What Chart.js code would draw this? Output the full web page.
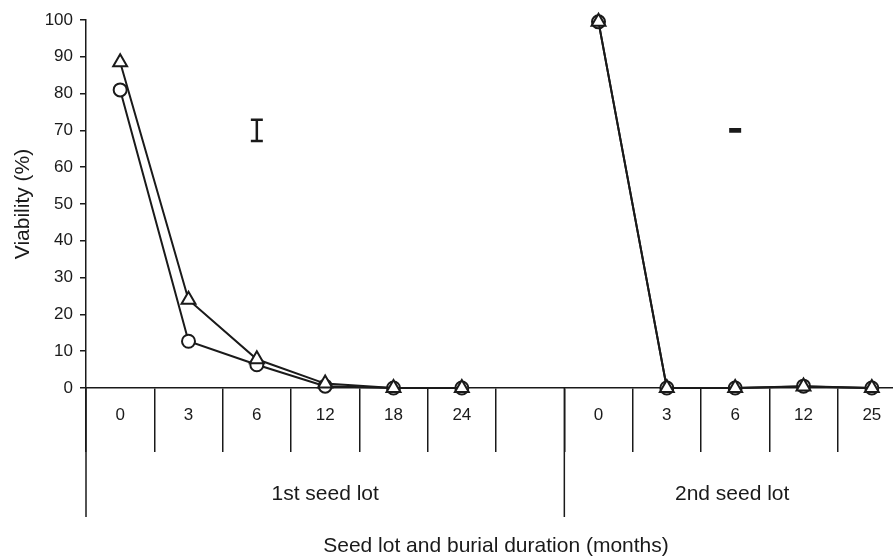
<!DOCTYPE html>
<html>
<head>
<meta charset="utf-8">
<script src="https://cdn.jsdelivr.net/npm/chart.js@4/dist/chart.umd.min.js"></script>
<style>
  html, body { margin: 0; padding: 0; overflow: hidden; background: #fff; width: 893px; height: 558px; }
  canvas { display: block; }
</style>
</head>
<body>
<canvas id="c" width="916" height="558"></canvas>
<script>
// ---- data ----
const categories = ['0', '3', '6', '12', '18', '24', '', '0', '3', '6', '12', '25'];
const triangleSeries = [88.5, 24.0, 7.8, 1.2, 0, 0, null, 99.5, 0, 0, 0.4, 0];
const circleSeries   = [81.0, 12.7, 6.3, 0.5, 0, 0, null, 99.5, 0, 0, 0.5, 0];
const groupNames = ['1st seed lot', '2nd seed lot'];
const groupStart = [0, 7];   // first category index of each group
const groupEnd   = [7, 12];  // one past the last category index
const lsdIndex  = [2, 9];    // category index where the LSD bar sits
const lsdCenter = [70, 70];
const lsdHalf   = [2.9, 0.3];
const yTitle = 'Viability (%)';
const xTitle = 'Seed lot and burial duration (months)';

const INK = '#1a1a1a';
const FONT = '"Liberation Sans", Arial, Helvetica, sans-serif';
Chart.defaults.font.family = FONT;
Chart.defaults.color = INK;

const furniture = {
  id: 'furniture',
  afterDraw(chart) {
    const { ctx, scales: { x, y } } = chart;
    const band = x.getPixelForValue(1) - x.getPixelForValue(0);
    const axisY = y.getPixelForValue(0);
    ctx.save();
    ctx.strokeStyle = INK;
    ctx.lineWidth = 1.5;
    // long group dividers
    groupStart.forEach(s => {
      const ex = x.getPixelForValue(s) - band / 2;
      ctx.beginPath();
      ctx.moveTo(ex, axisY);
      ctx.lineTo(ex, axisY + 129);
      ctx.stroke();
    });
    // group labels
    ctx.fillStyle = INK;
    ctx.font = '21px ' + FONT;
    ctx.textAlign = 'center';
    ctx.textBaseline = 'middle';
    groupNames.forEach((n, i) => {
      const l = x.getPixelForValue(groupStart[i]) - band / 2;
      const r = x.getPixelForValue(groupEnd[i]) - band / 2;
      ctx.fillText(n, (l + r) / 2 - (i === 1 ? 3 : 0), axisY + 106);
    });
    // LSD bars
    ctx.lineWidth = 2.5;
    lsdIndex.forEach((ix, i) => {
      const px = x.getPixelForValue(ix);
      const t = y.getPixelForValue(lsdCenter[i] + lsdHalf[i]);
      const b = y.getPixelForValue(lsdCenter[i] - lsdHalf[i]);
      ctx.beginPath();
      ctx.moveTo(px, t); ctx.lineTo(px, b);
      ctx.moveTo(px - 6, t); ctx.lineTo(px + 6, t);
      ctx.moveTo(px - 6, b); ctx.lineTo(px + 6, b);
      ctx.stroke();
    });
    ctx.restore();
  }
};

new Chart(document.getElementById('c'), {
  type: 'line',
  data: {
    labels: categories,
    datasets: [
      {
        label: 'Triangle series',
        data: triangleSeries,
        borderColor: INK,
        borderWidth: 2,
        pointStyle: 'triangle',
        pointRadius: 8,
        pointBorderWidth: 2,
        pointBackgroundColor: '#fff',
        pointBorderColor: INK,
        tension: 0,
        spanGaps: false,
        clip: false
      },
      {
        label: 'Circle series',
        data: circleSeries,
        borderColor: INK,
        borderWidth: 2,
        pointStyle: 'circle',
        pointRadius: 6.5,
        pointBorderWidth: 2,
        pointBackgroundColor: '#fff',
        pointBorderColor: INK,
        tension: 0,
        spanGaps: false,
        clip: false
      }
    ]
  },
  options: {
    responsive: false,
    animation: false,
    devicePixelRatio: 1,
    layout: { padding: { top: 20, right: 0, bottom: 0, left: 0 } },
    plugins: { legend: { display: false }, tooltip: { enabled: false } },
    scales: {
      x: {
        type: 'category',
        offset: true,
        grid: {
          offset: true,
          drawOnChartArea: false,
          drawTicks: true,
          tickLength: 64,
          color: INK,
          lineWidth: 1.5
        },
        border: { display: true, color: INK, width: 1.5 },
        ticks: { font: { size: 17 }, color: INK, padding: -47, maxRotation: 0, autoSkip: false },
        title: { display: true, text: xTitle, font: { size: 21 }, color: INK, padding: { top: 0, bottom: -1 } },
        afterFit(scale) { scale.height = 170; }
      },
      y: {
        min: 0,
        max: 100,
        ticks: { stepSize: 10, font: { size: 17 }, color: INK, padding: 7 },
        grid: { drawOnChartArea: false, drawTicks: true, tickLength: 6, color: INK, lineWidth: 1.5 },
        border: { display: true, color: INK, width: 1.5 },
        title: { display: true, text: yTitle, font: { size: 21 }, color: INK, padding: { top: 11, bottom: 0 } },
        afterFit(scale) { scale.width = 86; }
      }
    }
  },
  plugins: [furniture]
});
</script>
</body>
</html>
